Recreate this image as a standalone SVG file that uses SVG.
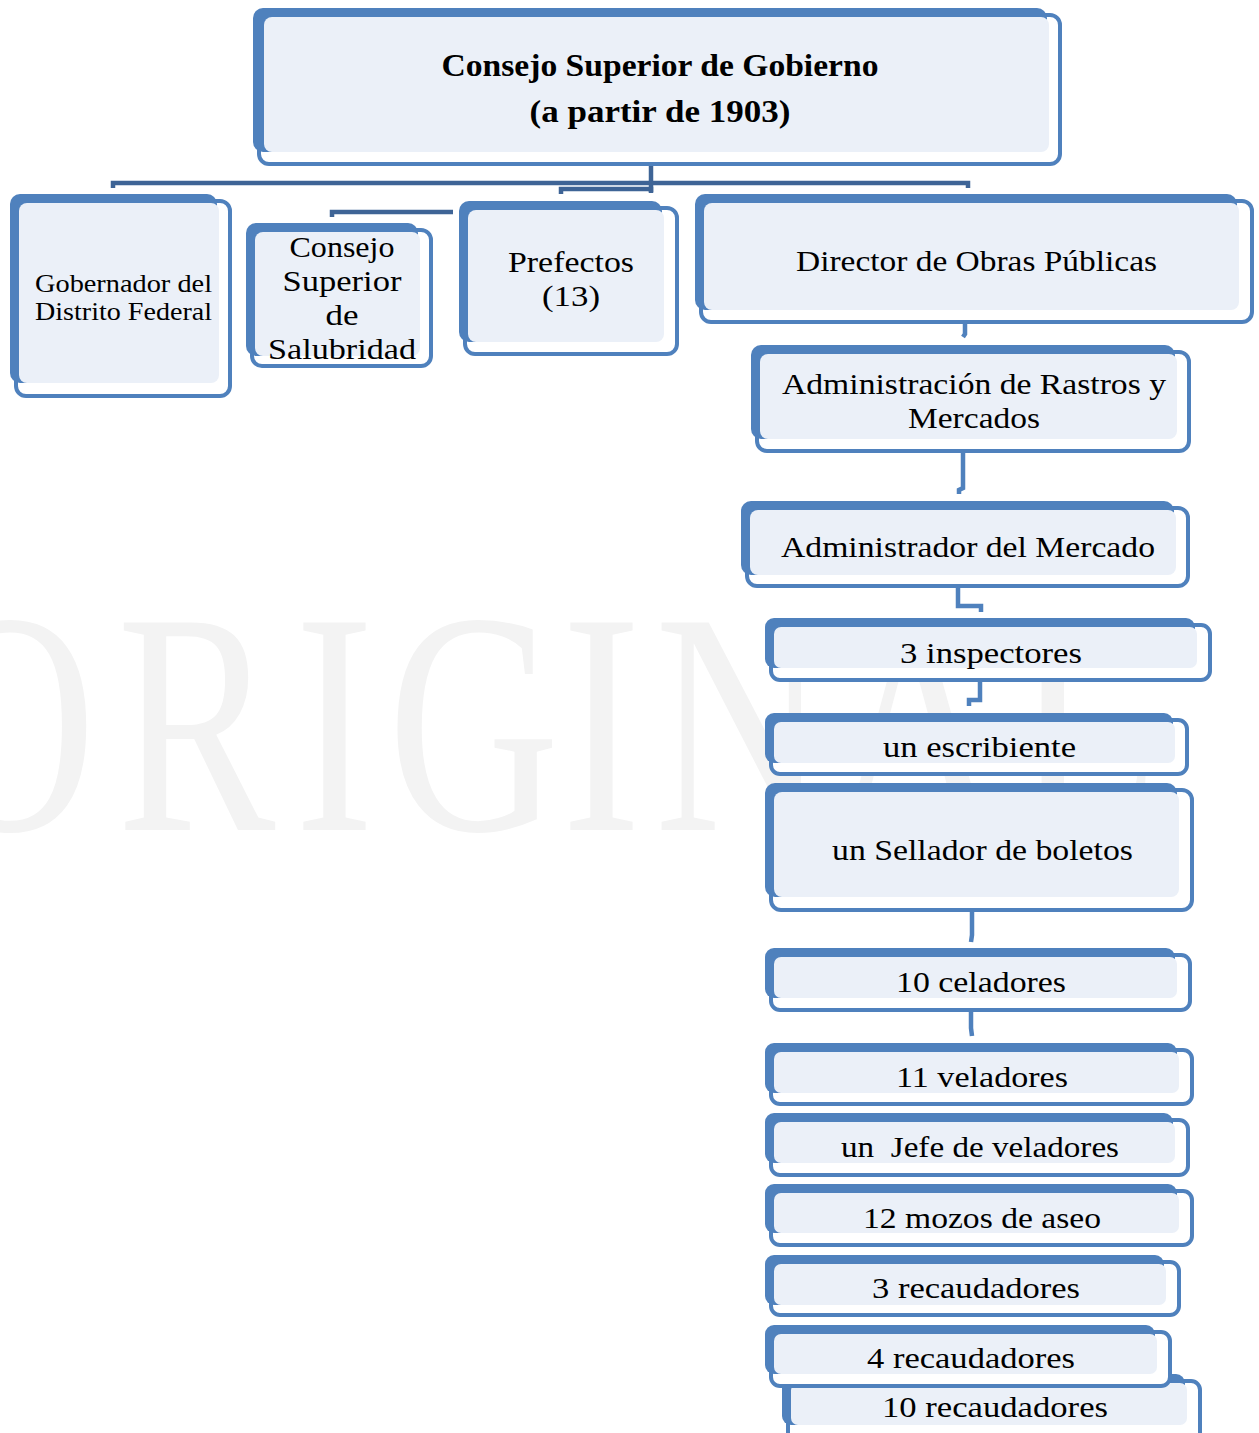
<svg xmlns="http://www.w3.org/2000/svg" width="1259" height="1433" viewBox="0 0 1259 1433">
<style>
.o{fill:#ffffff;stroke:#4f81bd;stroke-width:4}
.f{fill:#4f81bd}
.l{fill:#ebf0f8}
.t{font-family:"Liberation Serif","Times New Roman",serif;font-size:30px;fill:#000;text-anchor:middle}
.b{font-weight:bold;font-size:31px}
.s{font-size:26px}
.c1{fill:none;stroke:#3e6496;stroke-width:4.5}
.c2{fill:none;stroke:#4f81bd;stroke-width:4.5}
.wm{font-family:"Liberation Serif","Times New Roman",serif;font-size:317px;fill:#f3f3f3}
</style>
<rect x="0" y="0" width="1259" height="1433" fill="#ffffff"/>
<g transform="scale(0.75,1)">
<text class="wm" x="-101 156 393 517 749 873 1107 1353" y="830">ORIGINAL</text>
</g>

<g id="connectors">
<path class="c1" d="M651,162 V192"/>
<path class="c1" d="M113,188 V183 H968 V188"/>
<path class="c1" d="M561,194 V189 H651 V193"/>
<path class="c1" d="M332,217 V212 H453"/>
<path class="c2" d="M965,322 V334 L963,337"/>
<path class="c2" d="M963,452 V488 L959,490 V494"/>
<path class="c2" d="M958,588 V606 H981 V612"/>
<path class="c2" d="M980,682 V700 H969 V706"/>
<path class="c2" d="M972,912 V935 L971,942"/>
<path class="c2" d="M971,1012 V1028 L972,1036"/>
</g>

<g id="n-consejo-gobierno">
<rect class="o" x="259" y="15" width="801" height="149" rx="10"/>
<rect class="f" x="253" y="8" width="794" height="144" rx="10"/>
<rect class="l" x="264" y="17" width="785" height="135" rx="8"/>
<text class="t b" x="660" y="76" textLength="437" lengthAdjust="spacingAndGlyphs">Consejo Superior de Gobierno</text>
<text class="t b" x="660" y="122" textLength="261" lengthAdjust="spacingAndGlyphs">(a partir de 1903)</text>
</g>

<g id="n-gobernador">
<rect class="o" x="16" y="201" width="214" height="195" rx="10"/>
<rect class="f" x="10" y="194" width="207" height="189" rx="10"/>
<rect class="l" x="19" y="203" width="200" height="180" rx="8"/>
<text class="t s" x="123.5" y="292" textLength="177" lengthAdjust="spacingAndGlyphs">Gobernador del</text>
<text class="t s" x="123.5" y="320" textLength="177" lengthAdjust="spacingAndGlyphs">Distrito Federal</text>
</g>

<g id="n-salubridad">
<rect class="o" x="252" y="230" width="179" height="136" rx="10"/>
<rect class="f" x="246" y="223" width="172" height="133" rx="10"/>
<rect class="l" x="255" y="232" width="165" height="124" rx="8"/>
<text class="t" x="342" y="257" textLength="105" lengthAdjust="spacingAndGlyphs">Consejo</text>
<text class="t" x="342" y="291" textLength="119" lengthAdjust="spacingAndGlyphs">Superior</text>
<text class="t" x="342" y="325" textLength="33" lengthAdjust="spacingAndGlyphs">de</text>
<text class="t" x="342" y="359" textLength="148" lengthAdjust="spacingAndGlyphs">Salubridad</text>
</g>

<g id="n-prefectos">
<rect class="o" x="465" y="208" width="212" height="146" rx="10"/>
<rect class="f" x="459" y="201" width="203" height="141" rx="10"/>
<rect class="l" x="468" y="210" width="196" height="132" rx="8"/>
<text class="t" x="571" y="272" textLength="126" lengthAdjust="spacingAndGlyphs">Prefectos</text>
<text class="t" x="571" y="306" textLength="58" lengthAdjust="spacingAndGlyphs">(13)</text>
</g>

<g id="n-director">
<rect class="o" x="701" y="201" width="551" height="121" rx="10"/>
<rect class="f" x="695" y="194" width="542" height="116" rx="10"/>
<rect class="l" x="704" y="203" width="535" height="107" rx="8"/>
<text class="t" x="976.5" y="271" textLength="361" lengthAdjust="spacingAndGlyphs">Director de Obras Públicas</text>
</g>

<g id="n-rastros">
<rect class="o" x="757" y="352" width="432" height="99" rx="10"/>
<rect class="f" x="751" y="345" width="424" height="94" rx="10"/>
<rect class="l" x="760" y="354" width="417" height="85" rx="8"/>
<text class="t" x="974" y="394" textLength="384" lengthAdjust="spacingAndGlyphs">Administración de Rastros y</text>
<text class="t" x="974" y="428" textLength="132" lengthAdjust="spacingAndGlyphs">Mercados</text>
</g>

<g id="n-administrador">
<rect class="o" x="747" y="508" width="441" height="78" rx="10"/>
<rect class="f" x="741" y="501" width="433" height="74" rx="10"/>
<rect class="l" x="750" y="510" width="426" height="65" rx="8"/>
<text class="t" x="968" y="557" textLength="374" lengthAdjust="spacingAndGlyphs">Administrador del Mercado</text>
</g>

<g id="n-inspectores">
<rect class="o" x="771" y="625" width="439" height="55" rx="9"/>
<rect class="f" x="765" y="618" width="430" height="50" rx="9"/>
<rect class="l" x="774" y="627" width="423" height="41" rx="7"/>
<text class="t" x="991" y="663" textLength="182" lengthAdjust="spacingAndGlyphs">3 inspectores</text>
</g>

<g id="n-escribiente">
<rect class="o" x="771" y="720" width="416" height="54" rx="9"/>
<rect class="f" x="765" y="713" width="408" height="50" rx="9"/>
<rect class="l" x="774" y="722" width="401" height="41" rx="7"/>
<text class="t" x="979.5" y="757" textLength="193" lengthAdjust="spacingAndGlyphs">un escribiente</text>
</g>

<g id="n-sellador">
<rect class="o" x="771" y="790" width="421" height="120" rx="10"/>
<rect class="f" x="765" y="783" width="412" height="114" rx="10"/>
<rect class="l" x="774" y="792" width="405" height="105" rx="8"/>
<text class="t" x="982.5" y="860" textLength="301" lengthAdjust="spacingAndGlyphs">un Sellador de boletos</text>
</g>

<g id="n-celadores">
<rect class="o" x="771" y="955" width="419" height="55" rx="9"/>
<rect class="f" x="765" y="948" width="410" height="50" rx="9"/>
<rect class="l" x="774" y="957" width="403" height="41" rx="7"/>
<text class="t" x="981" y="992" textLength="170" lengthAdjust="spacingAndGlyphs">10 celadores</text>
</g>

<g id="n-veladores">
<rect class="o" x="771" y="1050" width="421" height="54" rx="9"/>
<rect class="f" x="765" y="1043" width="412" height="50" rx="9"/>
<rect class="l" x="774" y="1052" width="405" height="41" rx="7"/>
<text class="t" x="982" y="1087" textLength="172" lengthAdjust="spacingAndGlyphs">11 veladores</text>
</g>

<g id="n-jefe">
<rect class="o" x="771" y="1120" width="417" height="55" rx="9"/>
<rect class="f" x="765" y="1113" width="408" height="50" rx="9"/>
<rect class="l" x="774" y="1122" width="401" height="41" rx="7"/>
<text class="t" x="980" y="1157" textLength="278" lengthAdjust="spacingAndGlyphs" xml:space="preserve">un  Jefe de veladores</text>
</g>

<g id="n-mozos">
<rect class="o" x="771" y="1191" width="421" height="54" rx="9"/>
<rect class="f" x="765" y="1184" width="412" height="49" rx="9"/>
<rect class="l" x="774" y="1193" width="405" height="40" rx="7"/>
<text class="t" x="982" y="1228" textLength="238" lengthAdjust="spacingAndGlyphs">12 mozos de aseo</text>
</g>

<g id="n-recaudadores-3">
<rect class="o" x="771" y="1262" width="408" height="53" rx="9"/>
<rect class="f" x="765" y="1255" width="399" height="50" rx="9"/>
<rect class="l" x="774" y="1264" width="392" height="41" rx="7"/>
<text class="t" x="976" y="1298" textLength="208" lengthAdjust="spacingAndGlyphs">3 recaudadores</text>
</g>

<g id="n-recaudadores-10">
<rect class="o" x="788" y="1381" width="412" height="62" rx="9"/>
<rect class="f" x="782" y="1374" width="403" height="51" rx="9"/>
<rect class="l" x="791" y="1383" width="396" height="42" rx="7"/>
<text class="t" x="995" y="1417" textLength="226" lengthAdjust="spacingAndGlyphs">10 recaudadores</text>
</g>

<g id="n-recaudadores-4">
<rect class="o" x="771" y="1332" width="399" height="54" rx="9"/>
<rect class="f" x="765" y="1325" width="390" height="49" rx="9"/>
<rect class="l" x="774" y="1334" width="383" height="40" rx="7"/>
<text class="t" x="971" y="1368" textLength="208" lengthAdjust="spacingAndGlyphs">4 recaudadores</text>
</g>
</svg>
